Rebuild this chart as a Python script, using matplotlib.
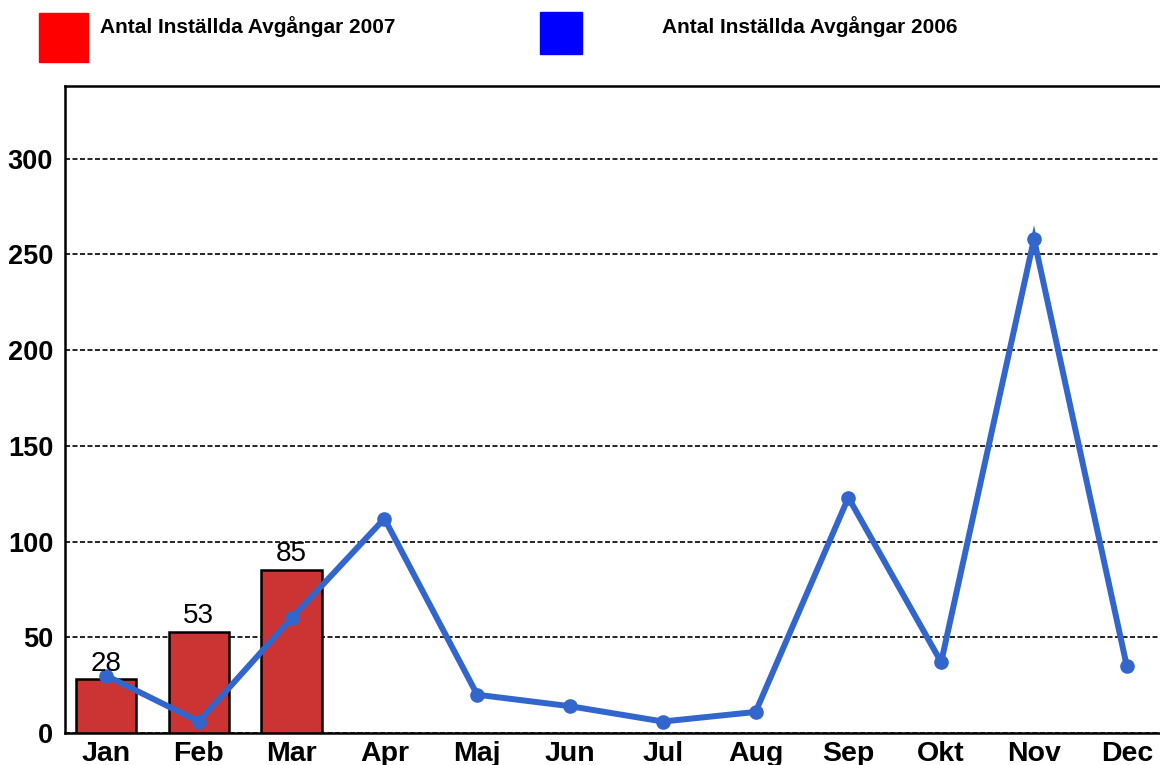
import matplotlib
matplotlib.use("Agg")
import matplotlib.pyplot as plt
from matplotlib.patches import Rectangle

plt.rcParams['font.family'] = ['Liberation Sans', 'DejaVu Sans']

# data
manader = ["Jan", "Feb", "Mar", "Apr", "Maj", "Jun", "Jul", "Aug", "Sep", "Okt", "Nov", "Dec"]
installda_2007 = [28, 53, 85]
installda_2006 = [30, 6, 60, 112, 20, 14, 6, 11, 123, 37, 258, 35]
y_ticks = [0, 50, 100, 150, 200, 250, 300]

fig = plt.figure(figsize=(11.6, 7.65), dpi=100)
ax = fig.add_axes([65 / 1160, 32 / 765, 1 - 65 / 1160, 647 / 765])

x = list(range(len(manader)))

# staplar 2007
ax.bar(x[:len(installda_2007)], installda_2007, width=0.65,
       color="#CC3333", edgecolor="black", linewidth=1.8, zorder=3)
for xi, v in zip(x, installda_2007):
    ax.text(xi, v + 1.5, str(v), ha="center", va="bottom", fontsize=20, zorder=5)

# linje 2006
ax.plot(x, installda_2006, color="#3366CC", linewidth=4.3, marker="o",
        markersize=9.5, solid_joinstyle="miter", zorder=4)

ax.set_xlim(-0.442, 11.358)
ax.set_ylim(0, 338)
ax.set_xticks(x)
ax.set_xticklabels(manader, fontsize=20.5, fontweight="bold")
ax.set_yticks(y_ticks)
ax.set_yticklabels([str(t) for t in y_ticks], fontsize=19.5, fontweight="bold")
ax.tick_params(axis="both", length=0)
ax.tick_params(axis="y", pad=8.5)
ax.tick_params(axis="x", pad=6)

ax.yaxis.grid(True, color="black", linestyle=(0, (3, 1.5)), linewidth=1.2, zorder=1)
ax.set_axisbelow(True)
ax.spines["right"].set_visible(False)
for s in ["left", "bottom", "top"]:
    ax.spines[s].set_linewidth(1.8)

# legend
fig.add_artist(Rectangle((39 / 1160, 1 - 62 / 765), 49 / 1160, 49 / 765,
                         transform=fig.transFigure, color="#FF0000"))
fig.add_artist(Rectangle((540 / 1160, 1 - 54 / 765), 42 / 1160, 42 / 765,
                         transform=fig.transFigure, color="#0000FF"))
fig.text(100 / 1160, 1 - 27 / 765, "Antal Inställda Avgångar 2007",
         fontsize=15, fontweight="bold", va="center", ha="left")
fig.text(662 / 1160, 1 - 27 / 765, "Antal Inställda Avgångar 2006",
         fontsize=15, fontweight="bold", va="center", ha="left")

fig.savefig("out.png", dpi=100)
